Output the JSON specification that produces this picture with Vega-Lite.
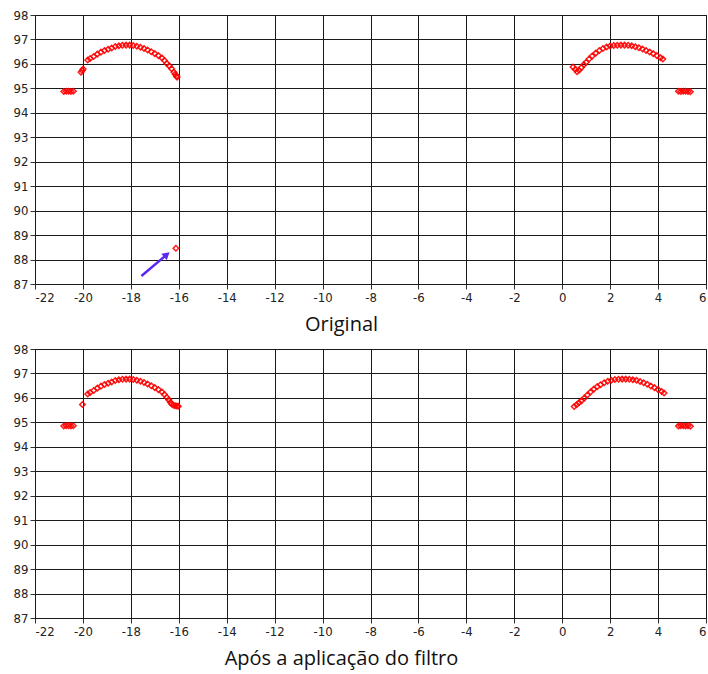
{
  "$schema": "https://vega.github.io/schema/vega-lite/v6.json",
  "padding": {"left": 12, "top": 8, "right": 0, "bottom": 0},
  "spacing": 65,
  "bounds": "flush",
  "background": "white",
  "config": {
    "view": {"stroke": "#1a1a1a", "strokeWidth": 1},
    "axis": {
      "grid": true,
      "gridColor": "#1a1a1a",
      "gridOpacity": 1,
      "gridWidth": 1,
      "domainColor": "#1a1a1a",
      "tickColor": "#333",
      "tickSize": 5,
      "labelPadding": 2,
      "labelOverlap": false,
      "labelExpr": "replace(datum.label, '−', '-')",
      "labelFont": "Liberation Sans Narrow, DejaVu Sans Condensed, sans-serif",
      "labelFontSize": 13,
      "labelColor": "#222",
      "title": null
    },
    "title": {"font": "Open Sans", "fontSize": 20, "fontWeight": "normal", "color": "#111"}
  },
  "datasets": {
    "pts": [
      {"panel": "Original", "x": -20.8, "y": 94.87},
      {"panel": "Original", "x": -20.7, "y": 94.88},
      {"panel": "Original", "x": -20.6, "y": 94.88},
      {"panel": "Original", "x": -20.5, "y": 94.87},
      {"panel": "Original", "x": -20.4, "y": 94.88},
      {"panel": "Original", "x": -20.08, "y": 95.66},
      {"panel": "Original", "x": -20.03, "y": 95.73},
      {"panel": "Original", "x": -19.99, "y": 95.79},
      {"panel": "Original", "x": -19.8, "y": 96.16},
      {"panel": "Original", "x": -19.7, "y": 96.22},
      {"panel": "Original", "x": -19.55, "y": 96.3},
      {"panel": "Original", "x": -19.4, "y": 96.4},
      {"panel": "Original", "x": -19.25, "y": 96.48},
      {"panel": "Original", "x": -19.1, "y": 96.55},
      {"panel": "Original", "x": -18.95, "y": 96.6},
      {"panel": "Original", "x": -18.8, "y": 96.65},
      {"panel": "Original", "x": -18.65, "y": 96.71},
      {"panel": "Original", "x": -18.5, "y": 96.74},
      {"panel": "Original", "x": -18.35, "y": 96.76},
      {"panel": "Original", "x": -18.2, "y": 96.77},
      {"panel": "Original", "x": -18.05, "y": 96.77},
      {"panel": "Original", "x": -17.9, "y": 96.75},
      {"panel": "Original", "x": -17.75, "y": 96.72},
      {"panel": "Original", "x": -17.6, "y": 96.68},
      {"panel": "Original", "x": -17.45, "y": 96.63},
      {"panel": "Original", "x": -17.3, "y": 96.57},
      {"panel": "Original", "x": -17.15, "y": 96.5},
      {"panel": "Original", "x": -17.0, "y": 96.42},
      {"panel": "Original", "x": -16.85, "y": 96.34},
      {"panel": "Original", "x": -16.7, "y": 96.24},
      {"panel": "Original", "x": -16.6, "y": 96.14},
      {"panel": "Original", "x": -16.5, "y": 96.02},
      {"panel": "Original", "x": -16.4, "y": 95.92},
      {"panel": "Original", "x": -16.3, "y": 95.8},
      {"panel": "Original", "x": -16.2, "y": 95.66},
      {"panel": "Original", "x": -16.15, "y": 95.58},
      {"panel": "Original", "x": -16.1, "y": 95.5},
      {"panel": "Original", "x": -16.07, "y": 95.46},
      {"panel": "Original", "x": -16.12, "y": 88.46},
      {"panel": "Original", "x": 0.45, "y": 95.87},
      {"panel": "Original", "x": 0.55, "y": 95.78},
      {"panel": "Original", "x": 0.62, "y": 95.68},
      {"panel": "Original", "x": 0.7, "y": 95.74},
      {"panel": "Original", "x": 0.8, "y": 95.85},
      {"panel": "Original", "x": 0.9, "y": 95.97},
      {"panel": "Original", "x": 1.0, "y": 96.07},
      {"panel": "Original", "x": 1.12, "y": 96.2},
      {"panel": "Original", "x": 1.25, "y": 96.32},
      {"panel": "Original", "x": 1.4, "y": 96.44},
      {"panel": "Original", "x": 1.55, "y": 96.55},
      {"panel": "Original", "x": 1.7, "y": 96.63},
      {"panel": "Original", "x": 1.85, "y": 96.69},
      {"panel": "Original", "x": 2.0, "y": 96.73},
      {"panel": "Original", "x": 2.15, "y": 96.75},
      {"panel": "Original", "x": 2.3, "y": 96.76},
      {"panel": "Original", "x": 2.45, "y": 96.77},
      {"panel": "Original", "x": 2.6, "y": 96.77},
      {"panel": "Original", "x": 2.75, "y": 96.76},
      {"panel": "Original", "x": 2.9, "y": 96.74},
      {"panel": "Original", "x": 3.05, "y": 96.7},
      {"panel": "Original", "x": 3.2, "y": 96.66},
      {"panel": "Original", "x": 3.35, "y": 96.61},
      {"panel": "Original", "x": 3.5, "y": 96.55},
      {"panel": "Original", "x": 3.65, "y": 96.49},
      {"panel": "Original", "x": 3.8, "y": 96.42},
      {"panel": "Original", "x": 3.95, "y": 96.34},
      {"panel": "Original", "x": 4.1, "y": 96.25},
      {"panel": "Original", "x": 4.2, "y": 96.2},
      {"panel": "Original", "x": 4.85, "y": 94.88},
      {"panel": "Original", "x": 4.95, "y": 94.87},
      {"panel": "Original", "x": 5.05, "y": 94.88},
      {"panel": "Original", "x": 5.15, "y": 94.88},
      {"panel": "Original", "x": 5.25, "y": 94.87},
      {"panel": "Original", "x": 5.35, "y": 94.86},
      {"panel": "Filtro", "x": -20.8, "y": 94.85},
      {"panel": "Filtro", "x": -20.7, "y": 94.86},
      {"panel": "Filtro", "x": -20.6, "y": 94.86},
      {"panel": "Filtro", "x": -20.5, "y": 94.85},
      {"panel": "Filtro", "x": -20.4, "y": 94.86},
      {"panel": "Filtro", "x": -20.02, "y": 95.73},
      {"panel": "Filtro", "x": -19.8, "y": 96.16},
      {"panel": "Filtro", "x": -19.7, "y": 96.22},
      {"panel": "Filtro", "x": -19.55, "y": 96.3},
      {"panel": "Filtro", "x": -19.4, "y": 96.4},
      {"panel": "Filtro", "x": -19.25, "y": 96.48},
      {"panel": "Filtro", "x": -19.1, "y": 96.55},
      {"panel": "Filtro", "x": -18.95, "y": 96.6},
      {"panel": "Filtro", "x": -18.8, "y": 96.65},
      {"panel": "Filtro", "x": -18.65, "y": 96.71},
      {"panel": "Filtro", "x": -18.5, "y": 96.74},
      {"panel": "Filtro", "x": -18.35, "y": 96.76},
      {"panel": "Filtro", "x": -18.2, "y": 96.77},
      {"panel": "Filtro", "x": -18.05, "y": 96.77},
      {"panel": "Filtro", "x": -17.9, "y": 96.75},
      {"panel": "Filtro", "x": -17.75, "y": 96.72},
      {"panel": "Filtro", "x": -17.6, "y": 96.68},
      {"panel": "Filtro", "x": -17.45, "y": 96.63},
      {"panel": "Filtro", "x": -17.3, "y": 96.57},
      {"panel": "Filtro", "x": -17.15, "y": 96.5},
      {"panel": "Filtro", "x": -17.0, "y": 96.42},
      {"panel": "Filtro", "x": -16.85, "y": 96.34},
      {"panel": "Filtro", "x": -16.7, "y": 96.24},
      {"panel": "Filtro", "x": -16.6, "y": 96.14},
      {"panel": "Filtro", "x": -16.5, "y": 96.02},
      {"panel": "Filtro", "x": -16.42, "y": 95.92},
      {"panel": "Filtro", "x": -16.35, "y": 95.82},
      {"panel": "Filtro", "x": -16.3, "y": 95.75},
      {"panel": "Filtro", "x": -16.22, "y": 95.7},
      {"panel": "Filtro", "x": -16.15, "y": 95.68},
      {"panel": "Filtro", "x": -16.08, "y": 95.67},
      {"panel": "Filtro", "x": -16.02, "y": 95.66},
      {"panel": "Filtro", "x": 0.5, "y": 95.65},
      {"panel": "Filtro", "x": 0.6, "y": 95.72},
      {"panel": "Filtro", "x": 0.7, "y": 95.8},
      {"panel": "Filtro", "x": 0.8, "y": 95.88},
      {"panel": "Filtro", "x": 0.92, "y": 95.99},
      {"panel": "Filtro", "x": 1.05, "y": 96.12},
      {"panel": "Filtro", "x": 1.18, "y": 96.24},
      {"panel": "Filtro", "x": 1.32, "y": 96.36},
      {"panel": "Filtro", "x": 1.46, "y": 96.46},
      {"panel": "Filtro", "x": 1.6, "y": 96.54},
      {"panel": "Filtro", "x": 1.75, "y": 96.62},
      {"panel": "Filtro", "x": 1.9, "y": 96.68},
      {"panel": "Filtro", "x": 2.05, "y": 96.72},
      {"panel": "Filtro", "x": 2.2, "y": 96.75},
      {"panel": "Filtro", "x": 2.35, "y": 96.76},
      {"panel": "Filtro", "x": 2.5, "y": 96.77},
      {"panel": "Filtro", "x": 2.65, "y": 96.77},
      {"panel": "Filtro", "x": 2.8, "y": 96.76},
      {"panel": "Filtro", "x": 2.95, "y": 96.74},
      {"panel": "Filtro", "x": 3.1, "y": 96.72},
      {"panel": "Filtro", "x": 3.25, "y": 96.67},
      {"panel": "Filtro", "x": 3.4, "y": 96.62},
      {"panel": "Filtro", "x": 3.55, "y": 96.56},
      {"panel": "Filtro", "x": 3.7, "y": 96.49},
      {"panel": "Filtro", "x": 3.85, "y": 96.42},
      {"panel": "Filtro", "x": 4.0, "y": 96.34},
      {"panel": "Filtro", "x": 4.15, "y": 96.26},
      {"panel": "Filtro", "x": 4.25, "y": 96.2},
      {"panel": "Filtro", "x": 4.85, "y": 94.85},
      {"panel": "Filtro", "x": 4.95, "y": 94.86},
      {"panel": "Filtro", "x": 5.05, "y": 94.86},
      {"panel": "Filtro", "x": 5.15, "y": 94.85},
      {"panel": "Filtro", "x": 5.25, "y": 94.86},
      {"panel": "Filtro", "x": 5.35, "y": 94.84}
    ],
    "arrow": [
      {"x": -17.56, "y": 87.33, "x2": -16.5, "y2": 88.2}
    ]
  },
  "vconcat": [
    {
      "width": 671,
      "height": 269,
      "title": {"text": "Original", "orient": "bottom", "anchor": "middle", "dx": -29, "offset": 11},
      "layer": [
        {
          "data": {"name": "pts"},
          "transform": [{"filter": "datum.panel === 'Original'"}],
          "mark": {"type": "point", "shape": "diamond", "filled": false, "color": "#ff0000", "size": 30, "strokeWidth": 1.5, "opacity": 0.9},
          "encoding": {
            "x": {"field": "x", "type": "quantitative", "scale": {"domain": [-22, 6], "nice": false}, "axis": {"values": [-22, -20, -18, -16, -14, -12, -10, -8, -6, -4, -2, 0, 2, 4, 6]}},
            "y": {"field": "y", "type": "quantitative", "scale": {"domain": [87, 98], "nice": false, "zero": false}, "axis": {"values": [87, 88, 89, 90, 91, 92, 93, 94, 95, 96, 97, 98]}}
          }
        },
        {
          "data": {"name": "arrow"},
          "mark": {"type": "rule", "color": "#5a28f0", "strokeWidth": 2.5},
          "encoding": {
            "x": {"field": "x", "type": "quantitative", "scale": {"domain": [-22, 6], "nice": false}, "axis": {"values": [-22, -20, -18, -16, -14, -12, -10, -8, -6, -4, -2, 0, 2, 4, 6]}},
            "y": {"field": "y", "type": "quantitative", "scale": {"domain": [87, 98], "nice": false, "zero": false}, "axis": {"values": [87, 88, 89, 90, 91, 92, 93, 94, 95, 96, 97, 98]}},
            "x2": {"field": "x2"},
            "y2": {"field": "y2"}
          }
        },
        {
          "data": {"name": "arrow"},
          "mark": {"type": "point", "shape": "triangle-up", "filled": true, "color": "#5a28f0", "size": 70, "angle": 50, "opacity": 1},
          "encoding": {
            "x": {"field": "x2", "type": "quantitative", "scale": {"domain": [-22, 6], "nice": false}, "axis": {"values": [-22, -20, -18, -16, -14, -12, -10, -8, -6, -4, -2, 0, 2, 4, 6]}},
            "y": {"field": "y2", "type": "quantitative", "scale": {"domain": [87, 98], "nice": false, "zero": false}, "axis": {"values": [87, 88, 89, 90, 91, 92, 93, 94, 95, 96, 97, 98]}}
          }
        }
      ]
    },
    {
      "width": 671,
      "height": 269,
      "title": {"text": "Após a aplicação do filtro", "orient": "bottom", "anchor": "middle", "dx": -29, "offset": 11},
      "data": {"name": "pts"},
      "transform": [{"filter": "datum.panel === 'Filtro'"}],
      "mark": {"type": "point", "shape": "diamond", "filled": false, "color": "#ff0000", "size": 30, "strokeWidth": 1.5, "opacity": 0.9},
      "encoding": {
        "x": {"field": "x", "type": "quantitative", "scale": {"domain": [-22, 6], "nice": false}, "axis": {"values": [-22, -20, -18, -16, -14, -12, -10, -8, -6, -4, -2, 0, 2, 4, 6]}},
        "y": {"field": "y", "type": "quantitative", "scale": {"domain": [87, 98], "nice": false, "zero": false}, "axis": {"values": [87, 88, 89, 90, 91, 92, 93, 94, 95, 96, 97, 98]}}
      }
    }
  ]
}
